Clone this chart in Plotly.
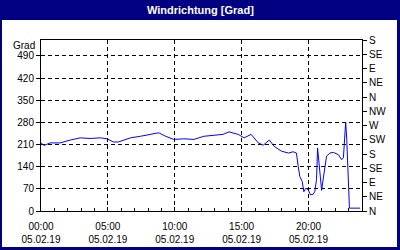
import plotly.graph_objects as go
import pandas as pd

hours = [0.0, 0.23, 0.68, 1.43, 2.18, 2.93, 3.68, 4.44, 4.94, 5.41, 5.79, 6.69, 7.44, 8.20, 8.80,
         9.32, 9.92, 10.68, 11.43, 12.18, 12.93, 13.61, 14.06, 14.74, 15.19, 15.71, 16.24, 16.62,
         17.07, 17.44, 17.97, 18.50, 18.85, 19.10, 19.23, 19.35, 19.53, 19.65, 19.80, 19.98, 20.15,
         20.35, 20.47, 20.60, 20.68, 20.75, 20.85, 20.98, 21.11, 21.23, 21.35, 21.60, 21.86, 22.23,
         22.48, 22.61, 22.68, 22.78, 22.86, 22.98, 23.06, 23.86]
direction = [215, 207, 215, 215, 224, 231, 229, 231, 228, 218, 218, 231, 236, 242, 247,
             236, 226, 228, 226, 236, 238, 242, 250, 242, 231, 242, 215, 208,
             224, 204, 189, 183, 187, 183, 141, 109, 93, 61, 72, 67, 51,
             53, 61, 99, 199, 168, 99, 65, 104, 146, 173, 183, 185, 178,
             162, 168, 204, 281, 226, 56, 9, 9]

left_ticks = [0, 70, 140, 210, 280, 350, 420, 490]
compass_vals = [0, 45, 90, 135, 180, 225, 270, 315, 360, 405, 450, 495, 540]
compass_text = ["N", "NE", "E", "SE", "S", "SW", "W", "NW", "N", "NE", "E", "SE", "S"]

base = pd.Timestamp("2019-02-05 00:00")
times = [base + pd.Timedelta(hours=h) for h in hours]

NAVY = "#000080"
FONT = "Liberation Sans"

fig = go.Figure()
fig.add_trace(go.Scatter(x=times, y=direction, mode="lines",
                         line=dict(color="#0000ff", width=1), showlegend=False))
fig.add_trace(go.Scatter(x=times, y=direction, mode="lines", yaxis="y2",
                         line=dict(color="rgba(0,0,0,0)", width=0), showlegend=False,
                         hoverinfo="skip"))

fig.update_layout(
    width=400, height=250,
    margin=dict(l=41, r=38, t=40, b=39),
    paper_bgcolor=NAVY, plot_bgcolor="white",
    font=dict(family=FONT, size=10, color="black"),
    xaxis=dict(type="date", range=[base, base + pd.Timedelta(hours=24)],
               tick0=base, dtick=5 * 3600 * 1000, tickformat="%H:%M<br>%d.%m.%y",
               showgrid=True, gridcolor="black", griddash="4px,3px", gridwidth=1,
               showline=True, linecolor="black", linewidth=1, mirror=True,
               ticks="inside", ticklen=4, tickcolor="black", ticklabelstandoff=6,
               automargin=False,
               minor=dict(dtick=3600 * 1000, ticks="inside", ticklen=3, tickcolor="black", showgrid=False),
               zeroline=False, fixedrange=True),
    yaxis=dict(range=[0, 540], tickvals=left_ticks, showgrid=True, gridcolor="black",
               griddash="4px,3px", gridwidth=1, showline=True, linecolor="black", linewidth=1,
               mirror=True, ticks="outside", ticklen=4, tickcolor="black", zeroline=False,
               automargin=False),
    yaxis2=dict(range=[0, 540], tickvals=compass_vals, ticktext=compass_text,
                overlaying="y", side="right", showgrid=False, showline=True,
                linecolor="black", ticks="outside", ticklen=4, tickcolor="black", zeroline=False,
                automargin=False),
    shapes=[dict(type="rect", xref="paper", yref="paper",
                 x0=(2 - 41) / 321, x1=(397 - 41) / 321,
                 y0=(211 - 247) / 171, y1=(211 - 20) / 171,
                 fillcolor="white", line=dict(width=0), layer="below")],
    annotations=[
        dict(text="<b>Windrichtung [Grad]</b>", xref="paper", yref="paper",
             x=(200 - 41) / 321, y=(211 - 10) / 171, xanchor="center", yanchor="middle",
             showarrow=False, font=dict(family=FONT, size=11, color="white")),
        dict(text="Grad", xref="paper", yref="paper", x=(37 - 41) / 321, y=(211 - 45) / 171,
             xanchor="right", yanchor="middle", showarrow=False,
             font=dict(family=FONT, size=10, color="black")),
    ],
)

fig.write_html("out.html")
